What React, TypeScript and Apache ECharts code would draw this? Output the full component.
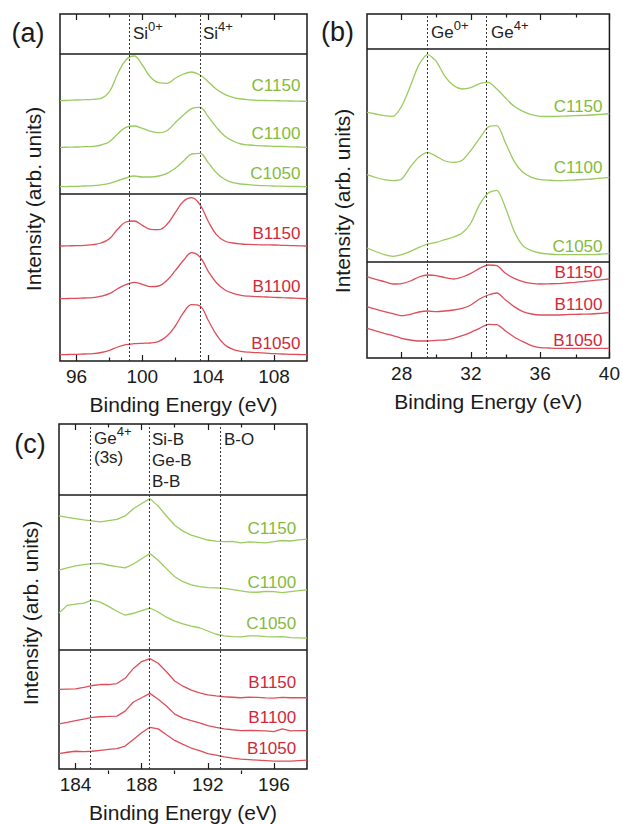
import React, { useEffect, useRef } from "react";
import * as echarts from "echarts";

// ---------- Panel (a): Si 2p ----------
const energyA = [95, 95.5, 96, 96.5, 97, 97.5, 98, 98.5, 99, 99.5, 100, 100.5, 101, 101.5, 102, 102.5, 103, 103.5, 104, 104.5, 105, 105.5, 106, 106.5, 107, 107.5, 108, 108.5, 109, 109.5, 110];
const siC1150 = [260.3, 260.6, 261, 261.3, 261.7, 262.7, 269.3, 287, 301, 305, 296, 283.7, 278.3, 277.7, 282.7, 287, 289, 286, 279.3, 271.7, 266.7, 263.7, 262, 261.2, 260.7, 260.5, 260.3, 260.2, 260, 259.8, 259.7];
const siC1100 = [213.7, 213.8, 214, 214.3, 214.7, 216, 219.3, 227, 233.7, 235, 232.7, 229.7, 228.3, 230.3, 238.3, 246, 252.3, 253.7, 244.3, 233.7, 225, 220, 217, 216, 215.3, 215, 214.7, 214.5, 214.2, 214, 213.7];
const siC1050 = [174.3, 174.5, 174.7, 175, 175.3, 176.2, 177.7, 180.3, 183, 185, 184, 184, 185, 187.7, 192.7, 200, 207, 207.7, 198.3, 188.3, 181.7, 178.3, 177, 176.3, 175.7, 175.3, 175, 174.8, 174.6, 174.5, 174.3];
const siB1150 = [115, 115.2, 115.3, 115.7, 116.3, 118, 122.3, 131.7, 139, 140, 135.7, 131.7, 131.3, 136.7, 148.3, 159.7, 163.3, 156.3, 139.7, 126.3, 120, 118, 117, 116.6, 116.3, 116.1, 116, 115.7, 115.4, 115.2, 115];
const siB1100 = [62.3, 62.5, 62.7, 63, 63.3, 64.8, 67.3, 72.3, 76.3, 78.7, 76.7, 74.3, 75, 80.7, 90.3, 100.7, 108.3, 104, 89.7, 78.3, 71.3, 67.7, 65.7, 64.8, 64.3, 64, 63.7, 63.3, 63, 62.6, 62.3];
const siB1050 = [6.3, 6.5, 6.7, 7, 7.3, 8.5, 10.7, 14, 16.3, 17.3, 17.7, 18, 19.7, 25, 35, 48.3, 56.3, 55, 40.7, 26.3, 16.3, 11.7, 9.7, 8.8, 8.3, 7.8, 7.3, 7, 6.7, 6.5, 6.3];
const ticksMajorA = [96, 100, 104, 108];
const ticksMinorA = [98, 102, 106];
const peakLinesA = [99.2, 103.5];
const sectionLinesA = [307.7, 167];

// ---------- Panel (b): Ge 3d ----------
const energyB = [26, 26.5, 27, 27.5, 28, 28.5, 29, 29.5, 30, 30.5, 31, 31.5, 32, 32.5, 33, 33.5, 34, 34.5, 35, 35.5, 36, 36.5, 37, 37.5, 38, 38.5, 39, 39.5, 40];
const geC1150 = [245.7, 244, 242.4, 241.7, 251.7, 271.7, 293.4, 303.4, 296.7, 281.7, 272.4, 269, 270.4, 274.4, 275.7, 269, 260, 251.7, 246.7, 243.4, 241.7, 241.5, 241.7, 242, 242.4, 242.6, 243, 243.7, 244.4];
const geC1100 = [183.4, 180.5, 178.4, 177.4, 179, 191, 201, 205.7, 201.7, 197, 195.7, 197.7, 207.7, 219.7, 231, 232.4, 215, 196.7, 185.7, 180.7, 178.4, 177.8, 177.4, 177.6, 178, 178.5, 179, 179.8, 180.7];
const geC1050 = [110, 106.5, 103.4, 101.7, 103.4, 106.7, 110.7, 114, 115.7, 118.4, 121, 125, 135, 153.4, 165, 167.7, 150, 126.7, 112.4, 107.4, 105, 104, 103.4, 103.4, 103.4, 103.4, 103.4, 103.8, 104.4];
const geB1150 = [81.4, 78.7, 76.4, 74, 74.4, 77, 81, 83, 82.4, 80.4, 79, 81, 84.7, 89.7, 93, 92.4, 84.7, 79.7, 76.4, 74.7, 74, 74.2, 74.4, 75, 75.7, 76.5, 77.4, 78.2, 79];
const geB1100 = [51.4, 48.8, 46.4, 44.4, 42.4, 43.7, 46, 47, 46.4, 47, 48, 49.7, 53, 59, 63, 65, 58, 51.4, 46.4, 44, 43, 43, 43, 43.4, 43.7, 43.8, 44, 44.7, 45.4];
const geB1050 = [29.7, 27.2, 24.7, 22.4, 19.7, 18, 17, 17, 17.7, 18, 19.7, 22.4, 25.7, 29.7, 33.7, 33.4, 27, 21, 16.4, 12.4, 10.4, 10, 9.7, 9.7, 9.7, 9.7, 9.7, 9.7, 9.7];
const ticksMajorB = [28, 32, 36, 40];
const ticksMinorB = [30, 34, 38];
const peakLinesB = [29.5, 32.9];
const sectionLinesB = [309.7, 96.7];

// ---------- Panel (c): B 1s ----------
const energyC = [183, 183.5, 184, 184.5, 185, 185.5, 186, 186.5, 187, 187.5, 188, 188.5, 189, 189.5, 190, 190.5, 191, 191.5, 192, 192.5, 193, 193.5, 194, 194.5, 195, 195.5, 196, 196.5, 197, 197.5, 198];
const bC1150 = [256.7, 255.3, 254, 252.7, 251.7, 250.7, 252, 253.3, 256.7, 264, 269.3, 274.3, 266.7, 256.7, 247.3, 241.3, 237.3, 234.7, 232.3, 231.2, 230.7, 230.9, 229.3, 230.5, 230, 229.5, 230.7, 231.8, 231.3, 232.5, 233.3];
const bC1100 = [201.7, 204, 206, 207.3, 208.3, 208.7, 206.7, 205.3, 204, 208, 213.3, 218.7, 211.7, 203.3, 195, 190, 186.7, 185, 184, 183.8, 183.3, 182, 180.7, 179.5, 179.3, 180.2, 180, 179, 180, 181, 181.7];
const bC1050 = [158.3, 166, 167.3, 168.3, 171.3, 169.3, 165, 160, 156, 158, 160.7, 163.3, 159.3, 154, 150, 147.3, 145, 143.3, 140, 136.7, 135, 134.2, 134, 135, 135, 134.3, 134, 134.2, 133.3, 133, 132.7];
const bB1150 = [80.7, 81, 81.3, 82.7, 84.7, 85.7, 85.7, 86.7, 92, 102, 109, 112, 107.3, 98.7, 89.3, 84, 80, 77.3, 75.3, 74.2, 73.3, 72.8, 72.3, 73, 72.7, 72.2, 72, 72.6, 72.3, 72.5, 72.3];
const bB1100 = [45.7, 47.3, 49, 50.7, 52.3, 53, 53.3, 53.7, 58.7, 68, 72.3, 76.7, 70.7, 64, 55.7, 51.7, 49, 46.7, 44, 42.3, 40.7, 39.8, 39, 39.2, 39, 38.6, 38, 40.7, 38.7, 38.9, 39];
const bB1050 = [15.7, 17, 18, 17.7, 18, 19, 20, 20.7, 23.3, 30, 36.7, 42.3, 40.7, 34.7, 29, 25, 21.3, 18.7, 15.7, 14, 12.3, 11, 10, 9.5, 9, 8.5, 8, 8, 8, 8.5, 9];
const ticksMajorC = [184, 188, 192, 196];
const ticksMinorC = [186, 190, 194];
const peakLinesC = [184.9, 188.45, 192.75];
const sectionLinesC = [278, 121];

const greenNames = ["C1150", "C1100", "C1050"];
const redNames = ["B1150", "B1100", "B1050"];

const FONT = '"Liberation Sans", Arial, Helvetica, sans-serif';
const INK = "#1a1a1a";
const GREEN = "#9acb5e";
const GREEN_TXT = "#84bb3c";
const RED = "#dd4e5a";
const RED_TXT = "#d0283a";

export default function App() {
  const ref = useRef<HTMLDivElement>(null);

  useEffect(() => {
    document.body.style.margin = "0";
    const chart = echarts.init(ref.current!, null, { renderer: "svg" });

    const panels = [
      {
        rect: { left: 60, top: 14, width: 247, height: 347 },
        xMin: 95, xMax: 110, yMax: 347, smooth: 0.4,
        energy: energyA,
        green: [siC1150, siC1100, siC1050],
        red: [siB1150, siB1100, siB1050],
        major: ticksMajorA, minor: ticksMinorA,
        dashed: peakLinesA, seps: sectionLinesA,
        labelX: 109.6, greenY: [276, 227.5, 187.5], redY: [127.7, 74.7, 18],
      },
      {
        rect: { left: 367, top: 14, width: 244, height: 344 },
        xMin: 26, xMax: 40, yMax: 344, smooth: 0.25,
        energy: energyB,
        green: [geC1150, geC1100, geC1050],
        red: [geB1150, geB1100, geB1050],
        major: ticksMajorB, minor: ticksMinorB,
        dashed: peakLinesB, seps: sectionLinesB,
        labelX: 39.6, greenY: [251.7, 190.2, 111.7], redY: [85.2, 53.2, 18],
      },
      {
        rect: { left: 59, top: 424, width: 248, height: 350 },
        xMin: 183, xMax: 198, yMax: 350, smooth: false,
        energy: energyC,
        green: [bC1150, bC1100, bC1050],
        red: [bB1150, bB1100, bB1050],
        major: ticksMajorC, minor: ticksMinorC,
        dashed: peakLinesC, seps: sectionLinesC,
        labelX: 197.35, greenY: [244, 189, 147.3], redY: [87.3, 52.3, 20.7],
      },
    ];

    const grid: any[] = [];
    const xAxis: any[] = [];
    const yAxis: any[] = [];
    const series: any[] = [];
    const tickLine = { color: INK, width: 1.2 };

    panels.forEach((p, i) => {
      grid.push({ ...p.rect, show: true, borderColor: INK, borderWidth: 1.5, backgroundColor: "transparent" });
      grid.push({ ...p.rect, show: false });
      const base = { type: "value", min: p.xMin, max: p.xMax, axisLine: { show: false }, splitLine: { show: false } };
      xAxis.push({
        ...base, gridIndex: 2 * i, position: "bottom",
        axisTick: { show: true, inside: true, length: 6, customValues: p.major, lineStyle: tickLine },
        axisLabel: { show: true, customValues: p.major, fontSize: 19, color: INK, fontFamily: FONT, margin: 6 },
        name: "Binding Energy (eV)", nameLocation: "middle", nameGap: 33,
        nameTextStyle: { fontSize: 21, color: INK, fontFamily: FONT },
      });
      xAxis.push({
        ...base, gridIndex: 2 * i, position: "top",
        axisTick: { show: true, inside: true, length: 6, customValues: p.major, lineStyle: tickLine },
        axisLabel: { show: false },
      });
      xAxis.push({
        ...base, gridIndex: 2 * i + 1, position: "bottom",
        axisTick: { show: true, inside: true, length: 3.5, customValues: p.minor, lineStyle: tickLine },
        axisLabel: { show: false },
      });
      xAxis.push({
        ...base, gridIndex: 2 * i + 1, position: "top",
        axisTick: { show: true, inside: true, length: 3.5, customValues: p.minor, lineStyle: tickLine },
        axisLabel: { show: false },
      });
      yAxis.push({ type: "value", gridIndex: 2 * i, min: 0, max: p.yMax, show: false });
      yAxis.push({ type: "value", gridIndex: 2 * i + 1, min: 0, max: p.yMax, show: false });

      const curves = [
        ...p.green.map((v, k) => ({ v, color: GREEN, name: greenNames[k] })),
        ...p.red.map((v, k) => ({ v, color: RED, name: redNames[k] })),
      ];
      curves.forEach((c, k) => {
        series.push({
          type: "line",
          name: c.name,
          xAxisIndex: 4 * i,
          yAxisIndex: 2 * i,
          data: p.energy.map((e, j) => [e, c.v[j]]),
          showSymbol: false,
          symbol: "none",
          smooth: p.smooth,
          silent: true,
          lineStyle: { color: c.color, width: 1.3 },
          z: 3,
          markLine:
            k === 0
              ? {
                  silent: true,
                  symbol: ["none", "none"],
                  label: { show: false },
                  data: [
                    ...p.seps.map((y) => ({ yAxis: y, lineStyle: { type: "solid", color: INK, width: 1.5 } })),
                    ...p.dashed.map((x) => ({ xAxis: x, lineStyle: { type: [2, 2], color: "#333", width: 1 } })),
                  ],
                }
              : undefined,
        });
      });
    });

    chart.setOption({
      animation: false,
      backgroundColor: "#ffffff",
      textStyle: { fontFamily: FONT },
      grid,
      xAxis,
      yAxis,
      series,
    });

    const graphics: any[] = [];
    const txt = (x: number, y: number, text: string, size: number, fill: string, extra: any = {}) => ({
      type: "text",
      x,
      y,
      silent: true,
      ...extra,
      style: { text, fill, fontSize: size, fontFamily: FONT, align: "center", verticalAlign: "middle", ...(extra.style || {}) },
    });

    panels.forEach((p, i) => {
      const put = (names: string[], ys: number[], color: string) =>
        names.forEach((n, k) => {
          const pt = chart.convertToPixel({ xAxisIndex: 4 * i, yAxisIndex: 2 * i }, [p.labelX, ys[k]]) as number[];
          graphics.push(txt(pt[0], pt[1], n, 17, color, { style: { align: "right" } }));
        });
      put(greenNames, p.greenY, GREEN_TXT);
      put(redNames, p.redY, RED_TXT);
    });

    // panel tags
    graphics.push(txt(28, 33, "(a)", 27, INK));
    graphics.push(txt(337.5, 32, "(b)", 27, INK));
    graphics.push(txt(30, 444, "(c)", 27, INK));

    // y axis titles
    const rot = { rotation: Math.PI / 2 };
    graphics.push(txt(33, 199, "Intensity (arb. units)", 21, INK, rot));
    graphics.push(txt(342, 201, "Intensity (arb. units)", 21, INK, rot));
    graphics.push(txt(30, 613, "Intensity (arb. units)", 21, INK, rot));

    // header annotations with superscripts
    const rich = {
      b: { fontSize: 17, fontFamily: FONT, fill: "#222", padding: [5, 0, 0, 0] },
      s: { fontSize: 13, fontFamily: FONT, fill: "#222", verticalAlign: "top" },
      l: { fontSize: 17, fontFamily: FONT, fill: "#222", lineHeight: 21 },
    };
    const sup = (x: number, yTop: number, text: string) => ({
      type: "text",
      x,
      y: yTop,
      silent: true,
      style: { text, align: "left", verticalAlign: "top", rich },
    });
    graphics.push(sup(133, 20, "{b|Si}{s|0+}"));
    graphics.push(sup(203, 20, "{b|Si}{s|4+}"));
    graphics.push(sup(431, 19, "{b|Ge}{s|0+}"));
    graphics.push(sup(491, 19, "{b|Ge}{s|4+}"));
    graphics.push(sup(94, 425, "{b|Ge}{s|4+}\n{l|(3s)}"));
    graphics.push({
      type: "text", x: 152, y: 429, silent: true,
      style: { text: "Si-B\nGe-B\nB-B", fill: "#222", fontSize: 17, fontFamily: FONT, lineHeight: 21, align: "left", verticalAlign: "top" },
    });
    graphics.push({
      type: "text", x: 224, y: 429, silent: true,
      style: { text: "B-O", fill: "#222", fontSize: 17, fontFamily: FONT, lineHeight: 21, align: "left", verticalAlign: "top" },
    });

    chart.setOption({ graphic: graphics });

    return () => chart.dispose();
  }, []);

  return <div ref={ref} style={{ width: 623, height: 824 }} />;
}
